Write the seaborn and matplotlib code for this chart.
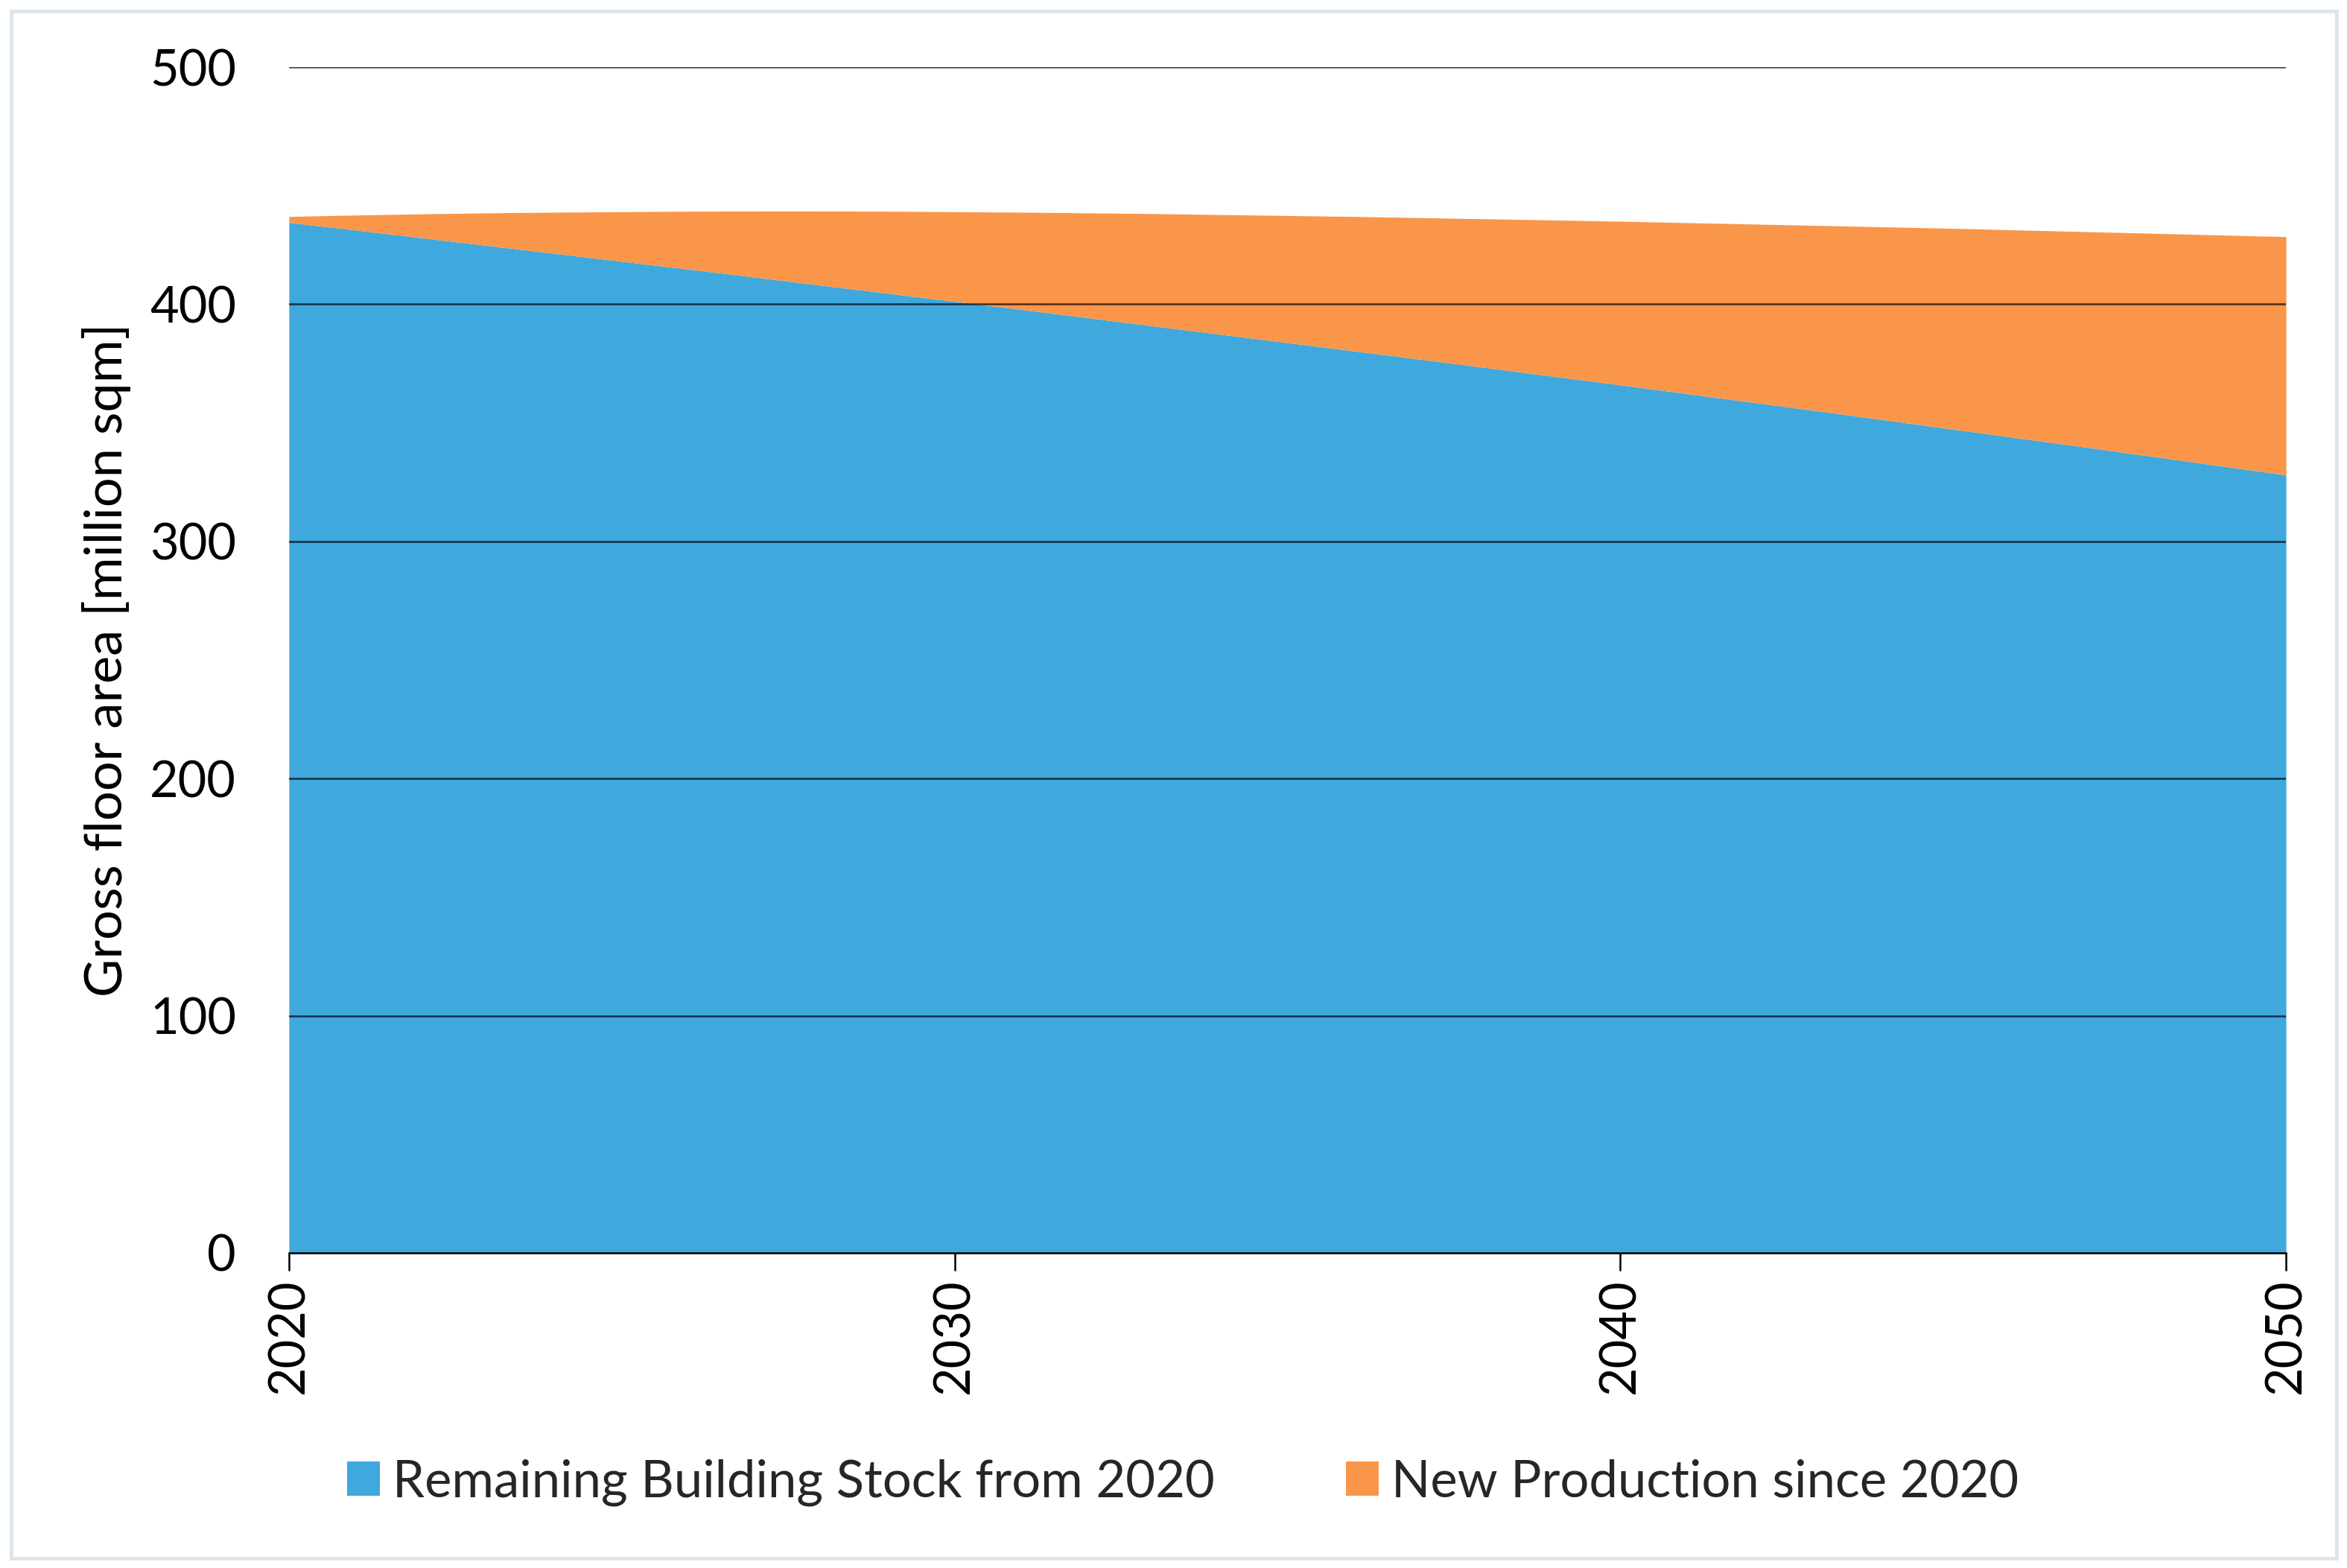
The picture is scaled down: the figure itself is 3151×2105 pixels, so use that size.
import matplotlib

matplotlib.use("Agg")
import matplotlib.pyplot as plt
from matplotlib.patches import Rectangle
import seaborn as sns
import pandas as pd

# ----- data -----
years = list(range(2020, 2051))

remaining_stock = [
    434.5, 431.3, 428.0, 424.7, 421.4, 418.1, 414.8, 411.4, 408.0, 404.6,
    401.2, 397.8, 394.3, 390.8, 387.3, 383.8, 380.3, 376.8, 373.2, 369.6,
    366.0, 362.3, 358.6, 354.9, 351.1, 347.3, 343.5, 339.7, 335.8, 331.9,
    328.0,
]

new_production = [
    2.5, 6.3, 10.1, 13.8, 17.4, 20.9, 24.4, 27.9, 31.3, 34.6,
    37.8, 41.0, 44.2, 47.4, 50.5, 53.6, 56.7, 59.7, 62.8, 65.9,
    69.0, 72.1, 75.2, 78.3, 81.5, 84.7, 87.8, 90.9, 94.1, 97.3,
    100.5,
]

series_labels = ["Remaining Building Stock from 2020", "New Production since 2020"]
x_ticks = [2020, 2030, 2040, 2050]
y_ticks = [0, 100, 200, 300, 400, 500]

colors = {series_labels[0]: "#3FA8DC", series_labels[1]: "#F9964A"}


def main():
    df = pd.DataFrame(
        {
            "year": years,
            series_labels[0]: remaining_stock,
            series_labels[1]: new_production,
        }
    )

    sns.set_theme(style="white")
    plt.rcParams["font.family"] = ["Lato", "DejaVu Sans"]

    fig = plt.figure(figsize=(3151 / 300, 2105 / 300), dpi=300)
    ax = fig.add_axes([0.1231, 0.2010, 0.8509, 0.7562])

    ax.stackplot(
        df["year"],
        df[series_labels[0]],
        df[series_labels[1]],
        labels=series_labels,
        colors=[colors[s] for s in series_labels],
        linewidth=0,
        zorder=1,
    )

    # gridlines over the areas
    for y in y_ticks[1:]:
        ax.axhline(y, color="black", linewidth=0.6, alpha=0.7, zorder=3)

    ax.set_xlim(2020, 2050)
    ax.set_ylim(0, 500)
    ax.set_xticks(x_ticks)
    ax.set_yticks(y_ticks)
    ax.set_xticklabels([str(t) for t in x_ticks], rotation=90, fontsize=16)
    ax.set_yticklabels([str(t) for t in y_ticks], fontsize=16)

    sns.despine(ax=ax, left=True, right=True, top=True)
    ax.spines["bottom"].set_color("black")
    ax.spines["bottom"].set_linewidth(0.6)
    ax.spines["bottom"].set_zorder(4)

    ax.tick_params(axis="x", direction="out", length=5.8, width=0.6,
                   color="black", pad=2.5, labelcolor="black", bottom=True)
    ax.tick_params(axis="y", length=0, pad=17, labelcolor="black")

    ax.set_ylabel("Gross floor area [million sqm]", fontsize=16.9, color="black",
                  labelpad=6)
    ax.set_xlabel("")

    handles, labels = ax.get_legend_handles_labels()
    fig.legend(
        handles,
        labels,
        loc="center",
        bbox_to_anchor=(0.504, 0.0545),
        ncol=2,
        frameon=False,
        fontsize=16.5,
        handlelength=0.65,
        handleheight=0.65,
        handletextpad=0.25,
        columnspacing=2.55,
    )

    # light frame around the whole chart
    fig.patches.append(
        Rectangle(
            (14.5 / 3151, 1 - 2091.5 / 2105),
            (3136.5 - 14.5) / 3151,
            (2091.5 - 14.5) / 2105,
            transform=fig.transFigure,
            fill=False,
            edgecolor="#DEE5EC",
            linewidth=1.2,
        )
    )

    fig.savefig("out.png", dpi=300, facecolor="white")


if __name__ == "__main__":
    main()
